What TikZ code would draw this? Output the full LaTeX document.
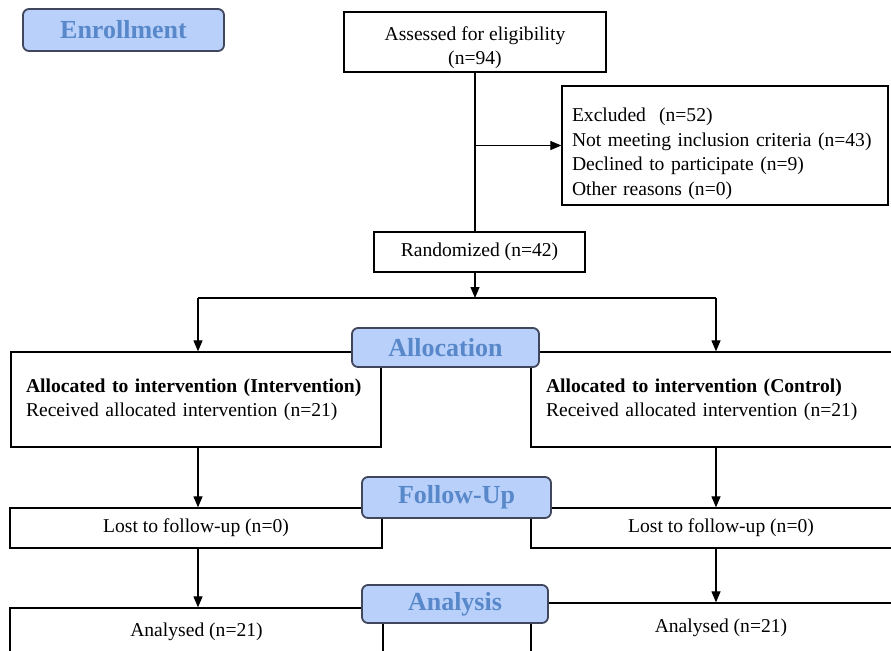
\documentclass[tikz,border=0pt]{standalone}
\usepackage{fontspec}
\setmainfont{Liberation Serif}
\usetikzlibrary{arrows.meta}
\definecolor{phasefill}{RGB}{184,208,250}
\definecolor{phasetext}{RGB}{88,136,201}
\definecolor{phasedraw}{RGB}{64,70,92}
\begin{document}
\begin{tikzpicture}[x=0.5pt, y=-0.5pt, line width=0.6pt, >={Triangle[length=5.5pt,width=4.5pt]},
    box/.style = {draw, line width=0.65pt, inner sep=0pt, font=\fontsize{9.8}{12.2}\selectfont},
    leftbox/.style = {box, align=left, inner xsep=7.5pt},
    phase/.style = {draw=phasedraw, fill=phasefill, rounded corners=3pt, line width=0.9pt, inner sep=0pt, text=phasetext, font=\fontsize{13}{15}\selectfont\bfseries}]
    \clip (0,0) rectangle (891,650);
    \node[phase, minimum width=100.5pt, minimum height=21pt] (1) at (123.5,30) {Enrollment};
    \node[box, align=center, minimum width=131pt, minimum height=30pt] (2) at (475,42) {\rule{0pt}{12.5pt}Assessed for eligibility\\(n=94)};
    \node[leftbox, inner xsep=5pt, text width=153pt, minimum height=59.5pt] (3) at (725,145.5) {\rule{0pt}{15pt}Excluded~ (n=52)\\Not meeting inclusion criteria (n=43)\\Declined to participate (n=9)\\Other reasons (n=0)};
    \node[box, minimum width=105.5pt, minimum height=20pt] (4) at (479.5,252) {Randomized (n=42)};
    \node[leftbox, text width=170pt, minimum height=47.5pt] (6) at (196,399.5) {\textbf{Allocated to intervention (Intervention)}\\Received allocated intervention (n=21)};
    \node[leftbox, text width=175pt, minimum height=47.5pt] (7) at (721,399.5) {\textbf{Allocated to intervention (Control)}\\Received allocated intervention (n=21)};
    \node[box, minimum width=186pt, minimum height=20pt] (9) at (196,528) {Lost to follow-up (n=0)};
    \node[box, minimum width=190pt, minimum height=20pt] (10) at (721,528) {Lost to follow-up (n=0)};
    \node[box, minimum width=186.5pt, minimum height=24pt] (12) at (196.5,632) {Analysed (n=21)};
    \node[box, minimum width=190pt, minimum height=25pt] (13) at (721,628) {Analysed (n=21)};
    \node[phase, minimum width=93.5pt, minimum height=19.5pt] (5) at (445.5,347.5) {Allocation};
    \node[phase, minimum width=94.5pt, minimum height=20.5pt] (8) at (456.5,497.5) {Follow-Up};
    \node[phase, minimum width=93pt, minimum height=19pt] (11) at (455,604) {Analysis};
    \coordinate (a) at (198,298);
    \coordinate (b) at (716,298);
    \draw (2.south) -- (2.south |- 4.north);
    \draw[->] (2.south |- 3.west) -- (3.west);
    \draw[->] (2.south |- 4.south) -- (2.south |- a);
    \draw (a) -- (b);
    \draw[->] (a) -- (a |- 6.north);
    \draw[->] (b) -- (b |- 7.north);
    \draw[->] (a |- 6.south) -- (a |- 9.north);
    \draw[->] (b |- 7.south) -- (b |- 10.north);
    \draw[->] (a |- 9.south) -- (a |- 12.north);
    \draw[->] (b |- 10.south) -- (b |- 13.north);
\end{tikzpicture}
\end{document}
